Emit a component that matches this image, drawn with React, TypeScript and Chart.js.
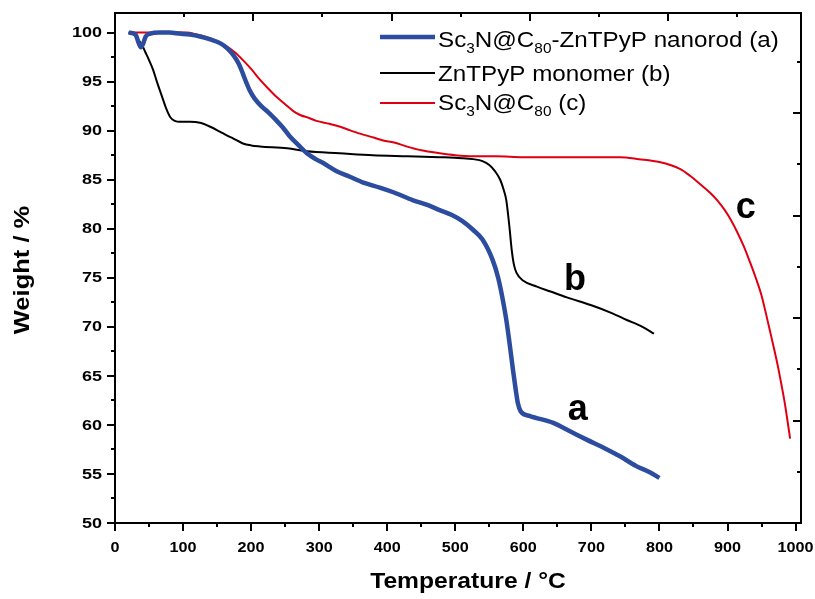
import React, { useEffect, useRef } from 'react';
import { Chart, registerables } from 'chart.js';

Chart.register(...registerables);

// ---- Data (Temperature °C / Weight %) ----
const tempA = [20, 30, 35, 38, 41, 45, 52, 65, 80, 95, 110, 125, 140, 155, 165, 175, 182, 188, 193, 198, 205, 215, 225, 235, 247, 257, 270, 282, 295, 306, 325, 345, 365, 389, 410, 438, 460, 477, 495, 510, 526, 540, 555, 563, 570, 575, 580, 585, 589, 592, 596, 610, 644, 670, 693, 720, 742, 766, 785, 800];
const weightA = [100, 99.8, 98.9, 98.5, 98.8, 99.6, 99.9, 100.0, 100.0, 99.9, 99.8, 99.6, 99.3, 98.9, 98.4, 97.6, 96.8, 95.8, 94.9, 94.1, 93.3, 92.5, 91.9, 91.2, 90.3, 89.4, 88.5, 87.7, 87.1, 86.7, 85.9, 85.3, 84.7, 84.2, 83.7, 82.9, 82.4, 81.9, 81.4, 80.8, 79.9, 78.9, 76.8, 75.0, 72.7, 70.7, 68.2, 65.5, 63.5, 62.2, 61.4, 60.9, 60.2, 59.3, 58.5, 57.6, 56.8, 55.8, 55.2, 54.6];

const tempB = [20, 28, 34, 40, 44, 50, 56, 62, 69, 75, 81, 88, 95, 110, 125, 140, 154, 165, 174, 188, 200, 213, 253, 282, 330, 379, 430, 477, 510, 526, 540, 550, 558, 566, 571, 575, 578, 580, 583, 586, 590, 600, 620, 640, 664, 700, 730, 752, 775, 792];
const weightB = [100, 99.8, 99.3, 98.7, 98.1, 97.2, 96.2, 94.9, 93.5, 92.3, 91.4, 91.0, 90.9, 90.9, 90.8, 90.4, 89.9, 89.5, 89.2, 88.7, 88.5, 88.4, 88.2, 87.9, 87.7, 87.5, 87.4, 87.3, 87.2, 87.1, 86.9, 86.5, 85.9, 85.0, 84.0, 82.9, 81.2, 79.9, 77.8, 76.4, 75.5, 74.7, 74.1, 73.6, 73.0, 72.2, 71.4, 70.7, 70.0, 69.3];

const tempC = [20, 40, 60, 80, 105, 120, 140, 152, 164, 176, 188, 200, 213, 225, 238, 250, 262, 272, 285, 296, 315, 331, 343, 360, 380, 394, 410, 428, 450, 477, 500, 527, 560, 600, 650, 700, 742, 770, 800, 830, 845, 859, 874, 885, 896, 905, 914, 924, 933, 942, 950, 956, 962, 968, 974, 979, 984, 988, 992];
const weightC = [100, 100, 100, 100, 100, 99.8, 99.4, 99.0, 98.6, 98.0, 97.2, 96.3, 95.2, 94.3, 93.4, 92.7, 92.0, 91.6, 91.3, 91.0, 90.7, 90.4, 90.1, 89.7, 89.3, 89.0, 88.8, 88.4, 88.0, 87.7, 87.5, 87.4, 87.4, 87.3, 87.3, 87.3, 87.3, 87.1, 86.8, 86.1, 85.4, 84.6, 83.7, 82.9, 81.9, 80.9, 79.7, 78.2, 76.6, 74.9, 73.2, 71.5, 69.7, 67.9, 66.0, 64.2, 62.3, 60.5, 58.6];

const xTickValues = [0, 100, 200, 300, 400, 500, 600, 700, 800, 900, 1000];
const yTickValues = [50, 55, 60, 65, 70, 75, 80, 85, 90, 95, 100];

const xTitle = 'Temperature / \u00B0C';
const yTitle = 'Weight / %';

// legend parts: [text, isSubscript]
const legendA: [string, boolean][] = [['Sc', false], ['3', true], ['N@C', false], ['80', true], ['-ZnTPyP nanorod (a)', false]];
const legendB: [string, boolean][] = [['ZnTPyP monomer (b)', false]];
const legendC: [string, boolean][] = [['Sc', false], ['3', true], ['N@C', false], ['80', true], [' (c)', false]];

const curveLetters = ['a', 'b', 'c'];
const curveLetterX = [680, 676, 927];
const curveLetterY = [61.5, 74.8, 82.1];

const BLUE = 'rgb(44, 76, 160)';
const BLACK = '#000000';
const RED = 'rgb(222, 0, 18)';

const FONT = '"Liberation Sans", Arial, Helvetica, sans-serif';

function toPoints(xs: number[], ys: number[]) {
  return xs.map((x, i) => ({ x, y: ys[i] }));
}

function drawStretched(ctx: CanvasRenderingContext2D, text: string, x: number, y: number, font: string, sx: number, align: string, baseline: CanvasTextBaseline) {
  ctx.save();
  ctx.font = font;
  ctx.textBaseline = baseline;
  ctx.textAlign = 'left';
  const w = ctx.measureText(text).width * sx;
  const x0 = align === 'left' ? x : align === 'center' ? x - w / 2 : x - w;
  ctx.translate(x0, y);
  ctx.scale(sx, 1);
  ctx.fillText(text, 0, 0);
  ctx.restore();
  return w;
}

const framePlugin = {
  id: 'originFrame',
  afterDraw(chart: any) {
    const ctx: CanvasRenderingContext2D = chart.ctx;
    const ca = chart.chartArea;
    const sx = chart.scales.x;
    const sy = chart.scales.y;
    const sx2 = chart.scales.x2;
    const sy2 = chart.scales.y2;
    ctx.save();
    ctx.strokeStyle = '#000';
    ctx.fillStyle = '#000';
    ctx.lineWidth = 2;
    ctx.lineCap = 'butt';
    // frame
    ctx.strokeRect(ca.left, ca.top, ca.right - ca.left, ca.bottom - ca.top);

    ctx.beginPath();
    // left ticks (outward)
    for (let v = 50; v <= 102.001; v += 2.5) {
      const p = Math.round(sy.getPixelForValue(v));
      const major = Math.abs(v % 5) < 1e-6;
      ctx.moveTo(ca.left, p);
      ctx.lineTo(ca.left - (major ? 8 : 4), p);
    }
    // bottom ticks (outward)
    for (let v = 0; v <= 1000.001; v += 50) {
      const p = Math.round(sx.getPixelForValue(v));
      const major = Math.abs(v % 100) < 1e-6;
      ctx.moveTo(p, ca.bottom);
      ctx.lineTo(p, ca.bottom + (major ? 8 : 4));
    }
    // top ticks (inward)
    for (let v = 0; v <= sx2.max + 1e-6; v += 0.5) {
      const p = Math.round(sx2.getPixelForValue(v));
      const major = Math.abs(v % 1) < 1e-6;
      ctx.moveTo(p, ca.top);
      ctx.lineTo(p, ca.top + (major ? 8 : 4));
    }
    // right ticks (inward)
    for (let v = 0; v <= sy2.max + 1e-6; v += 0.5) {
      const p = Math.round(sy2.getPixelForValue(v));
      const major = Math.abs(v % 1) < 1e-6;
      ctx.moveTo(ca.right, p);
      ctx.lineTo(ca.right - (major ? 8 : 4), p);
    }
    ctx.stroke();

    // tick labels
    const tickFont = `bold 15px ${FONT}`;
    yTickValues.forEach((v) => {
      drawStretched(ctx, String(v), ca.left - 13, sy.getPixelForValue(v) + 0.5, tickFont, 1.2, 'right', 'middle');
    });
    xTickValues.forEach((v) => {
      drawStretched(ctx, String(v), sx.getPixelForValue(v), ca.bottom + 25, tickFont, 1.08, 'center', 'middle');
    });

    // axis titles
    const titleFont = `bold 22px ${FONT}`;
    drawStretched(ctx, xTitle, (ca.left + ca.right) / 2 + 10, ca.bottom + 59, titleFont, 1.12, 'center', 'middle');
    ctx.save();
    ctx.translate(23, (ca.top + ca.bottom) / 2 + 2);
    ctx.rotate(-Math.PI / 2);
    drawStretched(ctx, yTitle, 0, 0, titleFont, 1.16, 'center', 'middle');
    ctx.restore();

    // curve letters
    const letterFont = `bold 36px ${FONT}`;
    curveLetters.forEach((t, i) => {
      drawStretched(ctx, t, sx.getPixelForValue(curveLetterX[i]), sy.getPixelForValue(curveLetterY[i]), letterFont, 1, 'center', 'middle');
    });

    // legend
    const rows = [
      { parts: legendA, color: BLUE, width: 4.5, lineY: 37, baseY: 47 },
      { parts: legendB, color: BLACK, width: 2, lineY: 73, baseY: 81 },
      { parts: legendC, color: RED, width: 2, lineY: 103, baseY: 110 },
    ];
    const lx0 = ca.left + 265;
    const lx1 = ca.left + 320;
    const tx = ca.left + 323;
    rows.forEach((r) => {
      ctx.beginPath();
      ctx.strokeStyle = r.color;
      ctx.lineWidth = r.width;
      ctx.moveTo(lx0, r.lineY);
      ctx.lineTo(lx1, r.lineY);
      ctx.stroke();
      let x = tx;
      r.parts.forEach(([txt, sub]) => {
        if (sub) {
          x += drawStretched(ctx, txt, x, r.baseY + 6, `14px ${FONT}`, 1.1, 'left', 'alphabetic');
        } else {
          x += drawStretched(ctx, txt, x, r.baseY, `22px ${FONT}`, 1.1, 'left', 'alphabetic');
        }
      });
    });
    ctx.restore();
  },
};

export default function App() {
  const ref = useRef<HTMLCanvasElement | null>(null);
  useEffect(() => {
    if (!ref.current) return;
    const chart = new Chart(ref.current, {
      type: 'line',
      data: {
        datasets: [
          { label: 'Sc3N@C80-ZnTPyP nanorod (a)', data: toPoints(tempA, weightA), borderColor: BLUE, borderWidth: 4.5, pointRadius: 0, cubicInterpolationMode: 'monotone', fill: false },
          { label: 'ZnTPyP monomer (b)', data: toPoints(tempB, weightB), borderColor: BLACK, borderWidth: 2, pointRadius: 0, cubicInterpolationMode: 'monotone', fill: false },
          { label: 'Sc3N@C80 (c)', data: toPoints(tempC, weightC), borderColor: RED, borderWidth: 2, pointRadius: 0, cubicInterpolationMode: 'monotone', fill: false },
        ],
      } as any,
      options: {
        animation: false,
        responsive: false,
        devicePixelRatio: 1,
        parsing: false,
        layout: { padding: { left: 115, right: 14, top: 13, bottom: 76 } },
        plugins: { legend: { display: false }, tooltip: { enabled: false } },
        scales: {
          x: { type: 'linear', min: 0, max: 1008, display: false },
          y: { type: 'linear', min: 50, max: 102, display: false },
          x2: { type: 'linear', min: 0, max: 4.96, display: false, position: 'top' },
          y2: { type: 'linear', min: 0, max: 4.976, display: false, position: 'right' },
        },
      } as any,
      plugins: [framePlugin],
    });
    return () => chart.destroy();
  }, []);
  return (
    <div style={{ position: 'fixed', left: 0, top: 0, width: 815, height: 599, background: '#fff' }}>
      <canvas ref={ref} width={815} height={599} style={{ width: 815, height: 599, display: 'block' }} />
    </div>
  );
}
